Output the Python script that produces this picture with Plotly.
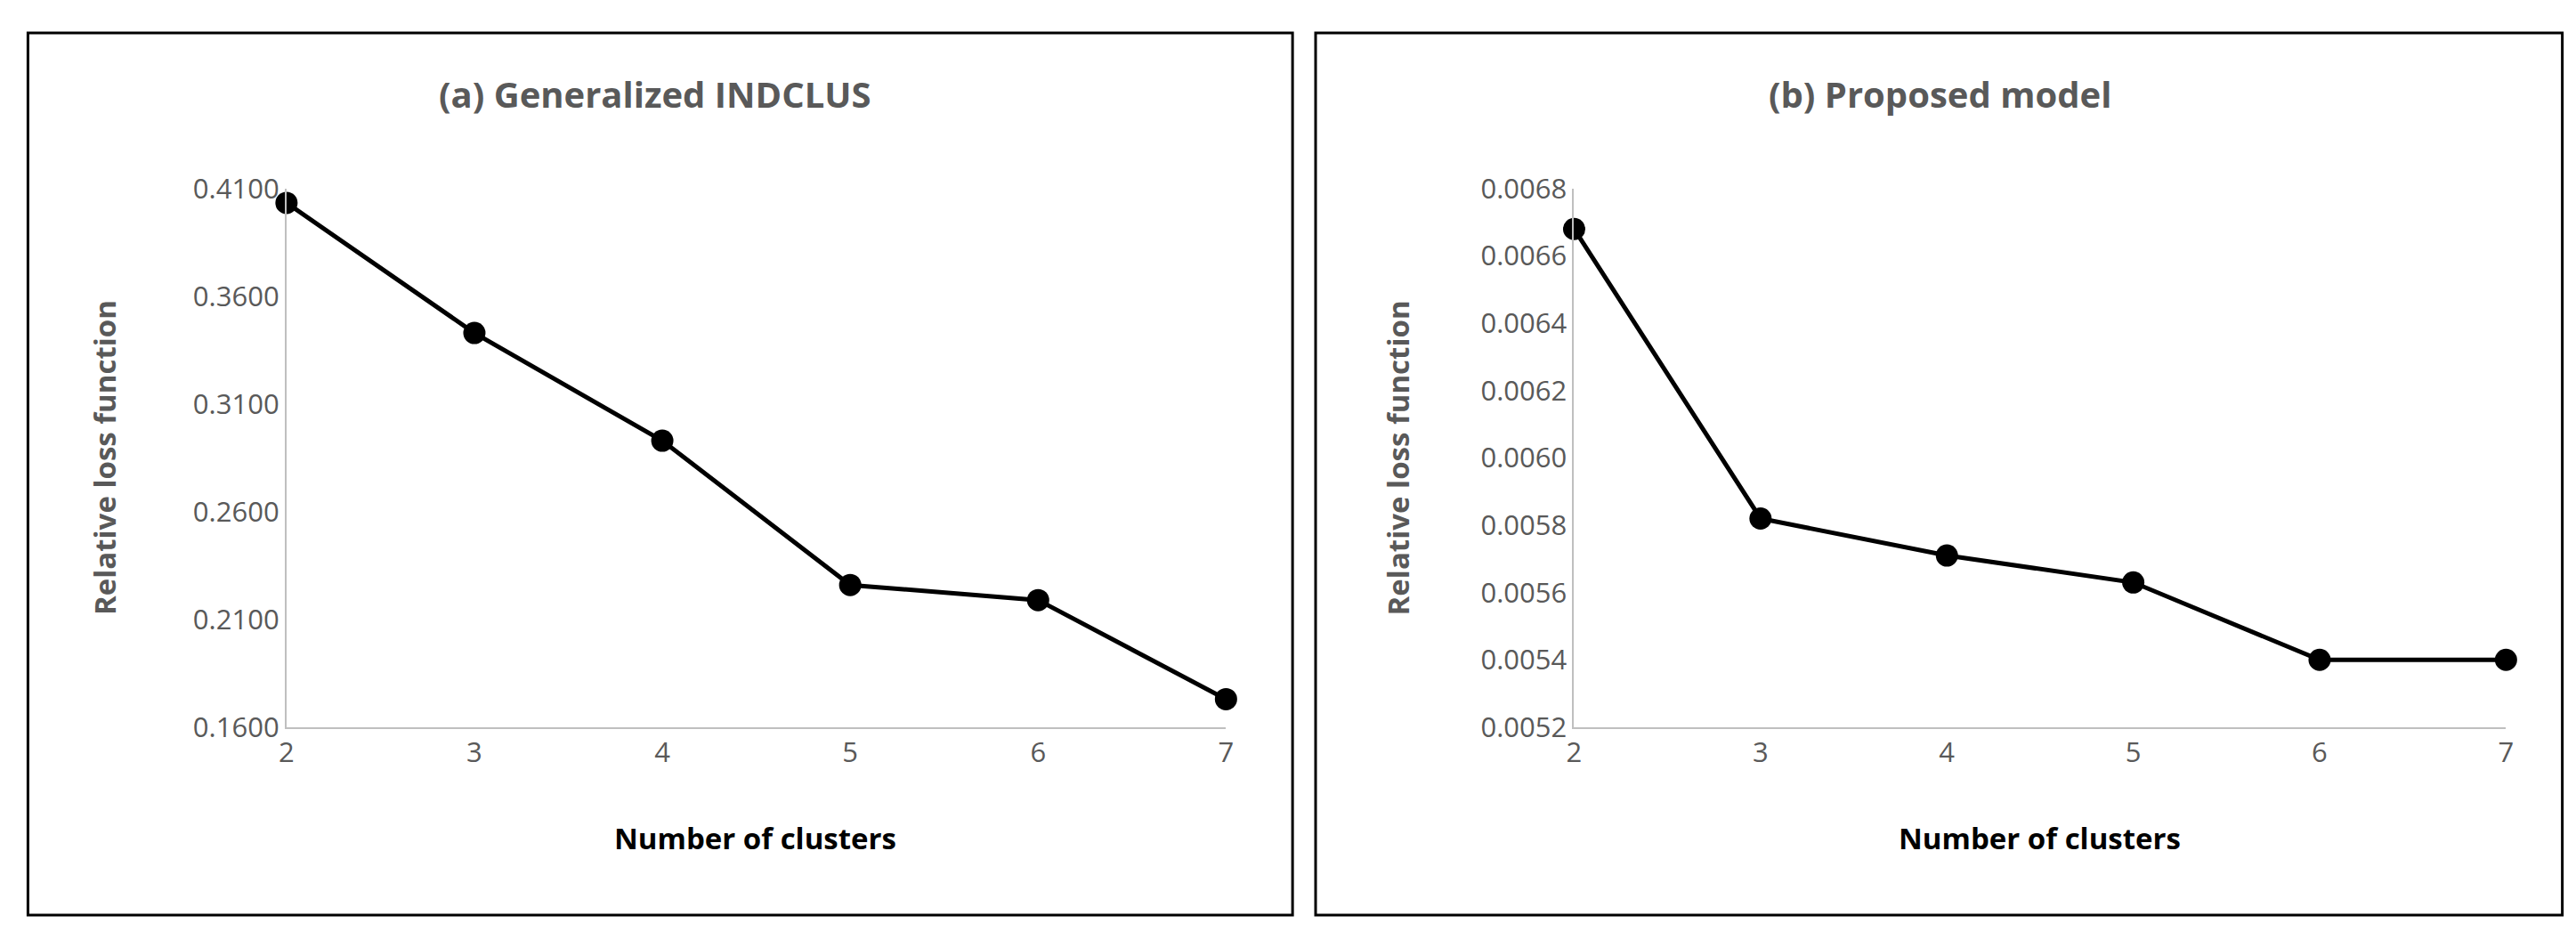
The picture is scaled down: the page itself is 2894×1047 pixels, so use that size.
import plotly.graph_objects as go

clusters = [2, 3, 4, 5, 6, 7]
indclus_loss = [0.4034, 0.3430, 0.2930, 0.2260, 0.2190, 0.1730]
proposed_loss = [0.00668, 0.00582, 0.00571, 0.00563, 0.00540, 0.00540]
left_ticks = [0.16, 0.21, 0.26, 0.31, 0.36, 0.41]
right_ticks = [0.0052, 0.0054, 0.0056, 0.0058, 0.0060, 0.0062, 0.0064, 0.0066, 0.0068]

W, H = 2894, 1047
grey = "#595959"
font = "Open Sans"

fig = go.Figure()
for y, ax in [(indclus_loss, ""), (proposed_loss, "2")]:
    fig.add_trace(go.Scatter(x=clusters, y=y, mode="lines+markers", xaxis="x" + ax, yaxis="y" + ax,
                             line=dict(color="black", width=5), marker=dict(color="black", size=25),
                             showlegend=False, cliponaxis=False))

axis_common = dict(showgrid=False, zeroline=False, showline=True, linecolor="#BFBFBF", linewidth=2,
                   tickfont=dict(family=font, size=31, color=grey), ticks="")
fig.update_layout(
    width=W, height=H, paper_bgcolor="white", plot_bgcolor="white",
    margin=dict(l=0, r=0, t=0, b=0),
    xaxis=dict(domain=[0.106, 0.473], range=[2, 7], tickvals=clusters, anchor="y", **axis_common),
    yaxis=dict(domain=[0.217, 0.819], range=[0.16, 0.41], tickvals=left_ticks, tickformat=".4f",
               anchor="x", **axis_common),
    xaxis2=dict(domain=[0.609, 0.973], range=[2, 7], tickvals=clusters, anchor="y2", **axis_common),
    yaxis2=dict(domain=[0.217, 0.819], range=[0.0052, 0.0068], tickvals=right_ticks, tickformat=".4f",
                anchor="x2", **axis_common),
)

for x0, x1 in [(0.005, 0.499), (0.508, 0.995)]:
    fig.add_shape(type="rect", xref="paper", yref="paper", x0=x0, x1=x1, y0=0.007, y1=0.993,
                  line=dict(color="black", width=3))

ann = []
for cx, t in [(0.25, "(a) Generalized INDCLUS"), (0.752, "(b) Proposed model")]:
    ann.append(dict(x=cx, y=0.925, text="<b>" + t + "</b>", font=dict(family=font, size=40, color=grey)))
for cx in [0.289, 0.791]:
    ann.append(dict(x=cx, y=0.093, text="<b>Number of clusters</b>", font=dict(family=font, size=33, color="black")))
for cx in [0.035, 0.540]:
    ann.append(dict(x=cx, y=0.518, text="<b>Relative loss function</b>", textangle=-90,
                    font=dict(family=font, size=33, color=grey)))
for a in ann:
    a.update(xref="paper", yref="paper", showarrow=False, xanchor="center", yanchor="middle")
fig.update_layout(annotations=ann)

fig.write_html("out.html")
